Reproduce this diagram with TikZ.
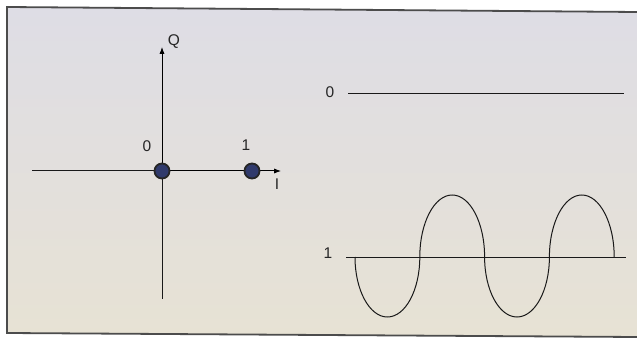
\documentclass[tikz,border=0pt]{standalone}
\usepackage{fontspec}
\setmainfont{Liberation Sans}
\usetikzlibrary{arrows.meta,positioning,calc}
\definecolor{paper}{RGB}{222,221,229}
\definecolor{paperlow}{RGB}{231,226,212}
\definecolor{dotblue}{RGB}{48,58,108}
\tikzset{
  axis/.style   = {-{Latex[length=2.4mm,width=1.8mm]}, line width=1pt},
  level/.style  = {line width=1pt, black!90},
  symdot/.style = {draw=black!85, line width=1.8pt, fill=dotblue, circle,
                   inner sep=0pt, minimum size=15pt},
  lbl/.style    = {font=\fontsize{15.5}{17}\selectfont, inner sep=0pt, black!85},
}

\begin{document}
\begin{tikzpicture}[x=1pt,y=-1pt]
\useasboundingbox (0,0) rectangle (637,339);
% ---------- frame ----------
\fill[white] (0,0) rectangle (637,339);
\shade[top color=paper, bottom color=paperlow] (637,12) -- (7,7) -- (7,333) -- (637,337) -- cycle;
\draw[line width=1.8pt, black!70] (637,12) -- (7,7) -- (7,333) -- (637,337);
% ---------- constellation ----------
\coordinate (O) at (162,171);
\coordinate (Qtip) at (162,47);
\coordinate (Qend) at (162,299);
\coordinate (Iend) at (32,171);
\coordinate (Itip) at (281,171);
\draw[level] (O) -- (Qend);
\draw[level] (O) -- (Iend);
\draw[axis] (O) -- (Qtip);
\draw[axis] (O) -- (Itip);
\node[lbl] (Q) at (174,42) {Q};
\node[lbl] (I) at (277,184) {I};
\node[symdot] (s0) at (O) {};
\node[symdot] (s1) at (252,171) {};
\node[lbl] (s0lbl) at (147,146) {0};
\node[lbl] (s1lbl) at (246,145) {1};
% ---------- waveforms ----------
\node[lbl] (zero) at (330,92) {0};
\coordinate (z1) at (348,94);
\coordinate (z2) at (624,94);
\draw[level] (z1) -- (z2);
\node[lbl] (one) at (328,253) {1};
\coordinate (o1) at (346,257);
\coordinate (o2) at (626,257);
\draw[level] (o1) -- (o2);
\draw[level] (355,257)
  arc[start angle=180, end angle=0, x radius=32.4, y radius=60]
  arc[start angle=180, end angle=360, x radius=32.4, y radius=62]
  arc[start angle=180, end angle=0, x radius=32.4, y radius=60]
  arc[start angle=180, end angle=360, x radius=32.4, y radius=62];
\end{tikzpicture}
\end{document}
